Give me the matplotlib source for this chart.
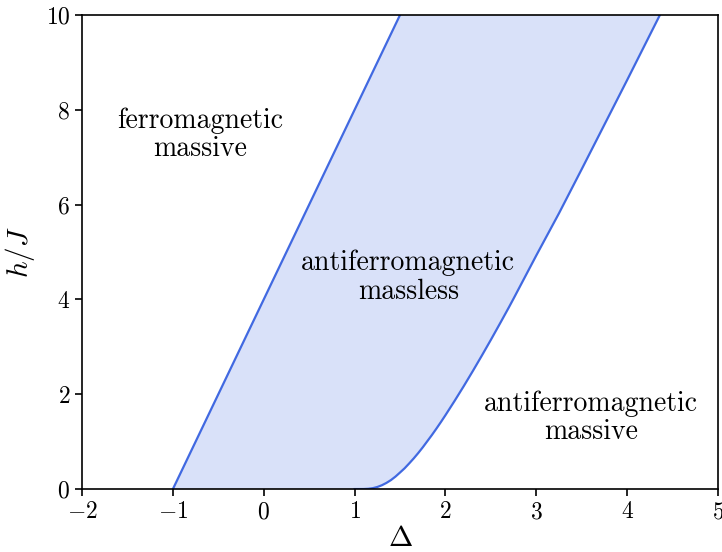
import numpy as np
import matplotlib
matplotlib.use("Agg")
import matplotlib.pyplot as plt

plt.rcParams['font.family'] = 'serif'
plt.rcParams['font.serif'] = ['cmr10']
plt.rcParams['mathtext.fontset'] = 'cm'
plt.rcParams['axes.formatter.use_mathtext'] = True

# upper boundary (saturation line)
delta_up = [-1.0, 1.5]
h_up = [0.0, 10.0]

# lower boundary of the massless phase (gap opens at Delta = 1)
delta_low = [1.0, 1.1, 1.15, 1.2, 1.25, 1.3, 1.35, 1.4, 1.45, 1.5, 1.55,
             1.6, 1.65, 1.7, 1.75, 1.8, 1.85, 1.9, 1.95, 2.0, 2.1, 2.2,
             2.3, 2.4, 2.5, 2.6, 2.7, 2.75, 3.0, 3.25, 3.5, 3.75, 4.0, 4.36]
h_low = [0.0, 0.001, 0.006, 0.019, 0.044, 0.081, 0.13, 0.19, 0.264, 0.35, 0.438,
         0.54, 0.646, 0.76, 0.881, 1.01, 1.139, 1.275, 1.415, 1.56, 1.859, 2.168,
         2.487, 2.815, 3.15, 3.493, 3.841, 4.02, 4.93, 5.82, 6.75, 7.69, 8.63, 10.0]

col = 'royalblue'

fig = plt.figure(figsize=(7.22, 5.52), dpi=100)
ax = fig.add_axes([0.1136, 0.114, 0.881, 0.859])

# massless region between the two boundaries
poly_x = list(delta_up) + list(delta_low[::-1])
poly_y = list(h_up) + list(h_low[::-1])
ax.fill(poly_x, poly_y, color=col, alpha=0.2, lw=0)
ax.plot(delta_up, h_up, color=col, lw=1.6)
ax.plot(delta_low, h_low, color=col, lw=1.6)

ax.text(-0.7, 7.47, 'ferromagnetic\nmassive', ha='center', va='center',
        fontsize=20, linespacing=1.1)
ax.text(1.59, 4.47, 'antiferromagnetic\nmassless', ha='center', va='center',
        fontsize=20, linespacing=1.1)
ax.text(3.6, 1.5, 'antiferromagnetic\nmassive', ha='center', va='center',
        fontsize=20, linespacing=1.1)

ax.set_xlim(-2, 5)
ax.set_ylim(0, 10)
ax.set_xticks(range(-2, 6))
ax.set_yticks(range(0, 11, 2))
ax.tick_params(labelsize=17, width=1.2, length=5)
for s in ax.spines.values():
    s.set_linewidth(1.2)
ax.set_xlabel(r'$\Delta$', fontsize=21, labelpad=2)
ax.set_ylabel(r'$h/J$', fontsize=21, labelpad=6)

fig.savefig('out.png', dpi=100)
